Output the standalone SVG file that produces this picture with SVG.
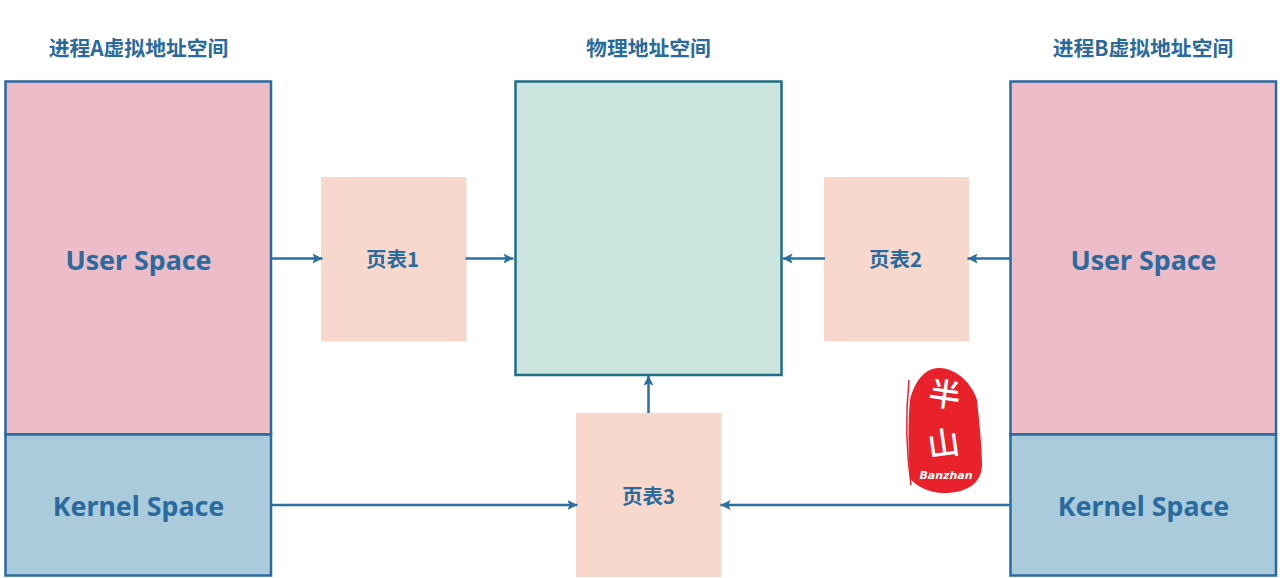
<svg xmlns="http://www.w3.org/2000/svg" width="1280" height="578" viewBox="0 0 1280 578">
<style>
text{font-family:"Noto Sans CJK SC","Noto Sans",sans-serif;font-weight:700;fill:#2a6a9c;text-anchor:middle}
.title{font-size:20.800px}
.space{font-family:"Noto Sans","Open Sans",sans-serif;font-size:26.800px;font-weight:700}
.pt{font-size:20.500px}
.user{fill:#ecbcc9;stroke:#2a6a9e;stroke-width:2.500}
.kern{fill:#a9cbdc;stroke:#2a6a9e;stroke-width:2.500}
.phys{fill:#cce6df;stroke:#1f6f86;stroke-width:2.500}
.table{fill:#f8d8cd}
.conn{fill:none;stroke:#2a70a2;stroke-width:2.500;marker-end:url(#arrow)}
</style>
<defs><marker id="arrow" markerUnits="userSpaceOnUse" markerWidth="12" markerHeight="12" refX="10" refY="6" orient="auto"><path d="M0 1 L10 6 L0 11 L2 6 Z" fill="#2a70a2"/></marker></defs>
<rect width="1280" height="578" fill="#fff"/>
<g id="process-a">
<text class="title" x="138.500" y="55.500">进程A虚拟地址空间</text>
<g id="a-user"><rect class="user" x="5.500" y="81.500" width="265.500" height="353"/><text class="space" x="138.500" y="269.500">User Space</text></g>
<g id="a-kernel"><rect class="kern" x="5.500" y="434.500" width="265.500" height="141"/><text class="space" x="138.500" y="516">Kernel Space</text></g>
</g>
<g id="physical">
<text class="title" x="648.500" y="55.500">物理地址空间</text>
<rect class="phys" x="515.500" y="81.500" width="266" height="293.500"/>
</g>
<g id="process-b">
<text class="title" x="1143" y="55.500">进程B虚拟地址空间</text>
<g id="b-user"><rect class="user" x="1010.500" y="81.500" width="265.500" height="353"/><text class="space" x="1143.500" y="269.500">User Space</text></g>
<g id="b-kernel"><rect class="kern" x="1010.500" y="434.500" width="265.500" height="141"/><text class="space" x="1143.500" y="516">Kernel Space</text></g>
</g>
<g id="table1"><rect class="table" x="321" y="177" width="145.500" height="164.500"/><text class="pt" x="392.500" y="266.500">页表1</text></g>
<g id="table2"><rect class="table" x="824" y="177" width="145" height="164.500"/><text class="pt" x="895.500" y="266.500">页表2</text></g>
<g id="table3"><rect class="table" x="576" y="413" width="145.500" height="164"/><text class="pt" x="648.500" y="503.500">页表3</text></g>
<g id="connectors">
<path class="conn" d="M272 258.500H322.500"/>
<path class="conn" d="M465.500 258.500H513.500"/>
<path class="conn" d="M1010 258.500H967.500"/>
<path class="conn" d="M825 258.500H782.500"/>
<path class="conn" d="M272 505H577.500"/>
<path class="conn" d="M1010 505H720.500"/>
<path class="conn" d="M648.500 413V375.500"/>
</g>
<g id="stamp">
<path d="M938 368C956 367 973 385 977 400C979 420 982 445 982 466C981 484 966 492 947 493C930 494 915 486 910 478C908 450 908 420 910 400C915 380 925 369 938 368Z" fill="#e8212b"/>
<path d="M909 380C906 410 906 450 911 485" fill="none" stroke="#e8212b" stroke-width="1.500"/>
<text x="943" y="406" transform="rotate(8 943 406)" style="font-family:'Noto Sans CJK SC',sans-serif;font-size:32px;font-weight:500;fill:#fff">半</text>
<text x="945" y="455" transform="rotate(-8 945 455)" style="font-family:'Noto Sans CJK SC',sans-serif;font-size:32px;font-weight:500;fill:#fff">山</text>
<text x="946" y="479" style="font-family:'DejaVu Sans',sans-serif;font-size:11px;font-weight:700;font-style:italic;fill:#fff">Banzhan</text>
</g>
</svg>
